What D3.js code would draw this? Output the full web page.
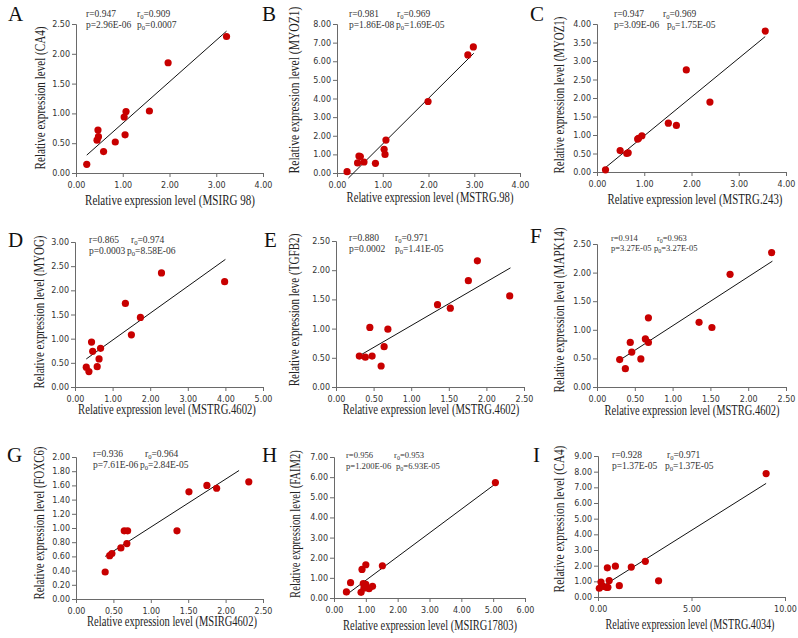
<!DOCTYPE html>
<html><head><meta charset="utf-8">
<script src="https://cdn.jsdelivr.net/npm/d3@7"></script>
<style>body{margin:0;background:#fff}svg{display:block}</style>
</head><body>
<svg id="c" width="798" height="638"></svg>
<script>
// ---------- data ----------
const panelLetters = ["A","B","C","D","E","F","G","H","I"];
const xLabels = [
  "Relative expression level (MSIRG 98)",
  "Relative expression level (MSTRG.98)",
  "Relative expression level (MSTRG.243)",
  "Relative expression level (MSTRG.4602)",
  "Relative expression level (MSTRG.4602)",
  "Relative expression level (MSTRG.4602)",
  "Relative expression level (MSIRG4602)",
  "Relative expression level (MSIRG17803)",
  "Relative expression level (MSTRG.4034)"];
const yLabels = [
  "Relative expression level (CA4)",
  "Relative expression level (MYOZ1)",
  "Relative expression level (MYOZ1)",
  "Relative expression level (MYOG)",
  "Relative expression leve (TGFB2)",
  "Relative expression level (MAPK14)",
  "Relative expression level (FOXC6)",
  "Relative expression level (FAIM2)",
  "Relative expression level (CA4)"];
const rVals  = ["0.947","0.981","0.947","0.865","0.880","0.914","0.936","0.956","0.928"];
const r0Vals = ["0.909","0.969","0.969","0.974","0.971","0.963","0.964","0.953","0.971"];
const pVals  = ["2.96E-06","1.86E-08","3.09E-06","0.0003","0.0002","3.27E-05","7.61E-06","1.200E-06","1.37E-05"];
const p0Vals = ["0.0007","1.69E-05","1.75E-05","8.58E-06","1.41E-05","3.27E-05","2.84E-05","6.93E-05","1.37E-05"];

const xTicksA=[0,1,2,3,4], yTicksA=[0,0.5,1,1.5,2,2.5];
const xTicksB=[0,1,2,3,4], yTicksB=[0,1,2,3,4,5,6,7,8];
const xTicksC=[0,1,2,3,4], yTicksC=[0,0.5,1,1.5,2,2.5,3,3.5,4];
const xTicksD=[0,1,2,3,4,5], yTicksD=[0,0.5,1,1.5,2,2.5,3];
const xTicksE=[0,0.5,1,1.5,2,2.5], yTicksE=[0,0.5,1,1.5,2,2.5];
const xTicksF=[0,0.5,1,1.5,2,2.5], yTicksF=[0,0.5,1,1.5,2,2.5];
const xTicksG=[0,0.5,1,1.5,2,2.5], yTicksG=[0,0.2,0.4,0.6,0.8,1,1.2,1.4,1.6,1.8,2];
const xTicksH=[0,1,2,3,4,5,6], yTicksH=[0,1,2,3,4,5,6,7];
const xTicksI=[0,5,10], yTicksI=[0,1,2,3,4,5,6,7,8,9];

const xA=[0.23,0.47,0.48,0.45,0.59,0.84,1.03,1.07,1.05,1.57,1.97,3.22];
const yA=[0.145,0.72,0.61,0.55,0.36,0.52,0.94,1.03,0.64,1.04,1.85,2.29];
const lineA=[0.23,0.30,3.22,2.38];

const xB=[0.22,0.45,0.48,0.51,0.59,0.84,1.03,1.05,1.07,1.99,2.86,2.98];
const yB=[0.07,0.54,0.91,0.88,0.59,0.52,1.27,1.0,1.77,3.84,6.34,6.77];
const lineB=[0.25,-0.27,2.99,6.43];

const xC=[0.18,0.49,0.63,0.66,0.86,0.88,0.95,1.51,1.68,1.89,2.39,3.56];
const yC=[0.06,0.58,0.50,0.52,0.89,0.91,0.98,1.32,1.26,2.76,1.89,3.81];
const lineC=[0.17,0.11,3.56,3.66];

const xD=[0.30,0.37,0.44,0.47,0.59,0.64,0.68,1.34,1.50,1.74,2.30,3.98];
const yD=[0.41,0.32,0.93,0.74,0.42,0.58,0.80,1.73,1.08,1.44,2.36,2.18];
const lineD=[0.30,0.58,4.0,2.64];

const xE=[0.31,0.39,0.45,0.48,0.60,0.64,0.69,1.35,1.52,1.76,1.88,2.31];
const yE=[0.53,0.51,1.02,0.53,0.36,0.69,0.99,1.41,1.35,1.82,2.16,1.56];
const lineE=[0.33,0.55,2.32,2.04];

const xF=[0.30,0.375,0.44,0.46,0.58,0.64,0.68,0.68,1.35,1.52,1.76,2.31];
const yF=[0.48,0.32,0.78,0.61,0.49,0.84,0.78,1.21,1.13,1.04,1.97,2.35];
const lineF=[0.30,0.47,2.32,2.20];

const xG=[0.39,0.45,0.48,0.60,0.645,0.69,0.68,1.35,1.51,1.75,1.88,2.31];
const yG=[0.38,0.61,0.64,0.72,0.96,0.96,0.78,0.96,1.51,1.60,1.56,1.65];
const lineG=[0.39,0.60,2.18,1.81];

const xH=[0.39,0.52,0.85,0.88,0.92,0.94,1.00,1.00,1.10,1.21,1.52,5.07];
const yH=[0.30,0.76,0.28,1.42,0.72,0.49,0.68,1.65,0.46,0.58,1.60,5.73];
const lineH=[0.39,0.16,5.04,5.63];

const xI=[0.07,0.16,0.28,0.46,0.53,0.50,0.60,0.93,1.14,1.78,2.53,3.24,8.99];
const yI=[0.56,0.95,0.68,0.62,0.62,1.86,1.05,1.97,0.72,1.91,2.28,1.03,7.88];
const lineI=[0.04,0.53,8.99,7.25];

// ---------- layout ----------
// st: [r x, r0 x, p0 x, row1 y, row2 y, font size]
const layout = [
 {x0:76, x1:263,yT:24, yB:173,xmax:4,  ymax:2.5,xt:xTicksA,yt:yTicksA,xs:xA,ys:yA,ln:lineA,
  let:[8,21],st:[86,137,137,17,28,9.5],yl:[40,98,143],xl:[170,205,170]},
 {x0:337,x1:520,yT:24, yB:173,xmax:4,  ymax:8,  xt:xTicksB,yt:yTicksB,xs:xB,ys:yB,ln:lineB,
  let:[262,21],st:[349,397,396,17,28,9.5],yl:[294,90,167],xl:[430,202,167]},
 {x0:597,x1:786,yT:24, yB:172,xmax:4,  ymax:4,  xt:xTicksC,yt:yTicksC,xs:xC,ys:yC,ln:lineC,
  let:[530,21],st:[614,663,667,17,28,9.5],yl:[559,95,157],xl:[695,204,175]},
 {x0:75, x1:263,yT:242,yB:387,xmax:5,  ymax:3,  xt:xTicksD,yt:yTicksD,xs:xD,ys:yD,ln:lineD,
  let:[8,247],st:[89,131,127,243,254,9.5],yl:[39,312,153],xl:[167,414,178]},
 {x0:336,x1:524,yT:241,yB:387,xmax:2.5,ymax:2.5,xt:xTicksE,yt:yTicksE,xs:xE,ys:yE,ln:lineE,
  let:[264,247],st:[349,395,395,241,252,9.5],yl:[294,310,153],xl:[431,414,177]},
 {x0:597,x1:786,yT:244,yB:387,xmax:2.5,ymax:2.5,xt:xTicksF,yt:yTicksF,xs:xF,ys:yF,ln:lineF,
  let:[530,243],st:[611,657,654,241,251,8.5],yl:[559,310,165],xl:[692,415,175]},
 {x0:76, x1:263,yT:457,yB:599,xmax:2.5,ymax:2,  xt:xTicksG,yt:yTicksG,xs:xG,ys:yG,ln:lineG,
  let:[7,462],st:[93,145,140,457,468,9.5],yl:[39,523,153],xl:[172,626,170]},
 {x0:334,x1:525,yT:457,yB:598,xmax:6,  ymax:7,  xt:xTicksH,yt:yTicksH,xs:xH,ys:yH,ln:lineH,
  let:[262,462],st:[346,394,396,458,469,8.6],yl:[295,524,148],xl:[430,630,174]},
 {x0:598,x1:785,yT:456,yB:597,xmax:10, ymax:9,  xt:xTicksI,yt:yTicksI,xs:xI,ys:yI,ln:lineI,
  let:[533,462],st:[612,667,665,458,469,9.5],yl:[559,519,147],xl:[690,629,169]}
];

const svg = d3.select("#c");
const fmt = d3.format(".2f");
const serif = "'Liberation Serif','Times New Roman',serif";

// draws text whose width is squeezed to a target length via a horizontal scale
function fitted(g, txt, cx, cy, len, rotate) {
  const t = g.append("text").attr("x",0).attr("y",0)
    .attr("font-family",serif).attr("font-size",14).attr("fill","#222")
    .attr("text-anchor","middle").text(txt);
  const w = t.node().getComputedTextLength() || len;
  const s = len / w;
  t.attr("transform", `translate(${cx},${cy})` + (rotate ? " rotate(-90)" : "") + ` scale(${s},1)`);
  return t;
}

layout.forEach((L,i)=>{
  const g = svg.append("g");
  const x = d3.scaleLinear().domain([0,L.xmax]).range([L.x0,L.x1]);
  const y = d3.scaleLinear().domain([0,L.ymax]).range([L.yB,L.yT]);

  const xa = g.append("g").attr("transform",`translate(0,${L.yB})`)
    .call(d3.axisBottom(x).tickValues(L.xt).tickFormat(fmt).tickSizeOuter(0).tickSize(4));
  const ya = g.append("g").attr("transform",`translate(${L.x0},0)`)
    .call(d3.axisLeft(y).tickValues(L.yt).tickFormat(fmt).tickSizeOuter(0).tickSize(4));
  [xa,ya].forEach(a=>{
    a.selectAll("path,line").attr("stroke","#6a6a6a").attr("stroke-width",1);
    a.selectAll("text").attr("fill","#333").attr("font-family","'DejaVu Sans',Verdana,sans-serif").attr("font-size",8);
  });
  xa.selectAll("text").attr("dy","0.95em");
  ya.selectAll("text").attr("x",-6);

  // regression line
  g.append("line")
    .attr("x1",x(L.ln[0])).attr("y1",y(L.ln[1]))
    .attr("x2",x(L.ln[2])).attr("y2",y(L.ln[3]))
    .attr("stroke","#111").attr("stroke-width",1);

  // points
  g.selectAll("circle").data(L.xs.map((v,k)=>[v,L.ys[k]])).join("circle")
    .attr("cx",d=>x(d[0])).attr("cy",d=>y(d[1])).attr("r",3.6)
    .attr("fill","#c80000");

  // letter
  g.append("text").attr("x",L.let[0]).attr("y",L.let[1])
    .attr("font-family",serif).attr("font-size",21).attr("fill","#111")
    .text(panelLetters[i]);

  // stats
  const st = g.append("g").attr("font-family",serif).attr("font-size",L.st[5]).attr("fill","#333");
  st.append("text").attr("x",L.st[0]).attr("y",L.st[3]).text("r=" + rVals[i]);
  st.append("text").attr("x",L.st[0]).attr("y",L.st[4]).text("p=" + pVals[i]);
  const t1 = st.append("text").attr("x",L.st[1]).attr("y",L.st[3]);
  t1.append("tspan").text("r");
  t1.append("tspan").attr("font-size",L.st[5]*0.7).attr("dy",2).text("0");
  t1.append("tspan").attr("dy",-2).text("=" + r0Vals[i]);
  const t2 = st.append("text").attr("x",L.st[2]).attr("y",L.st[4]);
  t2.append("tspan").text("p");
  t2.append("tspan").attr("font-size",L.st[5]*0.7).attr("dy",2).text("0");
  t2.append("tspan").attr("dy",-2).text("=" + p0Vals[i]);

  // axis labels
  fitted(g, yLabels[i], L.yl[0]+5, L.yl[1], L.yl[2], true);
  fitted(g, xLabels[i], L.xl[0], L.xl[1], L.xl[2], false);
});
</script>
</body></html>
